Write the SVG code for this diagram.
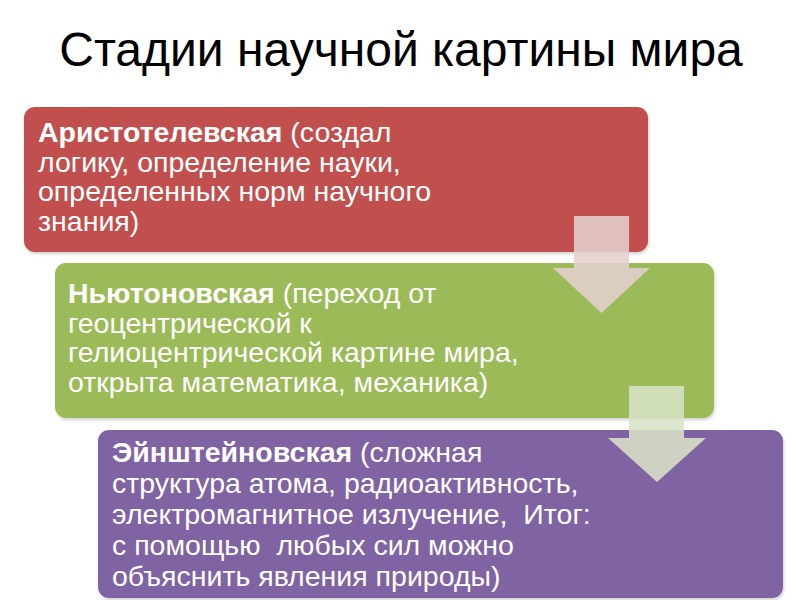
<svg xmlns="http://www.w3.org/2000/svg" width="800" height="600" viewBox="0 0 800 600">
  <defs>
    <filter id="sh" x="-5%" y="-5%" width="110%" height="115%">
      <feDropShadow dx="1" dy="2" stdDeviation="1.5" flood-color="#000" flood-opacity="0.18"/>
    </filter>
  </defs>
  <style>
    .title { font-family: "Liberation Sans", Arial, sans-serif; font-size: 48px; fill: #000; }
    .body { font-family: "Liberation Sans", Arial, sans-serif; font-size: 28.5px; fill: #fff; white-space: pre; }
    .b { font-weight: bold; }
    .box { filter: url(#sh); }
  </style>
  <rect width="800" height="600" fill="#fff"/>
  <text class="title" x="401" y="66" text-anchor="middle">Стадии научной картины мира</text>

  <g id="stage-aristotle">
    <rect class="box" x="24" y="107" width="624" height="145" rx="11" fill="#c0504d"/>
    <text class="body" x="38" y="142"><tspan class="b">Аристотелевская</tspan> (создал</text>
    <text class="body" x="38" y="171.5">логику, определение науки,</text>
    <text class="body" x="38" y="201">определенных норм научного</text>
    <text class="body" x="38" y="230.5">знания)</text>
  </g>

  <g id="stage-newton">
    <rect class="box" x="55" y="263" width="659" height="155" rx="11" fill="#9bbb59"/>
    <text class="body" x="68" y="303"><tspan class="b">Ньютоновская</tspan> (переход от</text>
    <text class="body" x="68" y="332.5">геоцентрической к</text>
    <text class="body" x="68" y="362">гелиоцентрической картине мира,</text>
    <text class="body" x="68" y="391.5">открыта математика, механика)</text>
  </g>

  <g id="stage-einstein">
    <rect class="box" x="98" y="430" width="685" height="168" rx="11" fill="#8064a2"/>
    <text class="body" x="112" y="462"><tspan class="b">Эйнштейновская</tspan> (сложная</text>
    <text class="body" x="112" y="493">структура атома, радиоактивность,</text>
    <text class="body" x="112" y="524" xml:space="preserve">электромагнитное излучение,  Итог:</text>
    <text class="body" x="112" y="555" xml:space="preserve">с помощью  любых сил можно</text>
    <text class="body" x="112" y="586">объяснить явления природы)</text>
  </g>

  <g id="connectors">
    <path d="M574,216 H629 V268 H650 L601.5,313 L553,268 H574 Z" fill="#e5d0d0" fill-opacity="0.87"/>
    <path d="M629,386 H684 V438 H706 L657,482 L608,438 H629 Z" fill="#d7e1c6" fill-opacity="0.88"/>
  </g>
</svg>
